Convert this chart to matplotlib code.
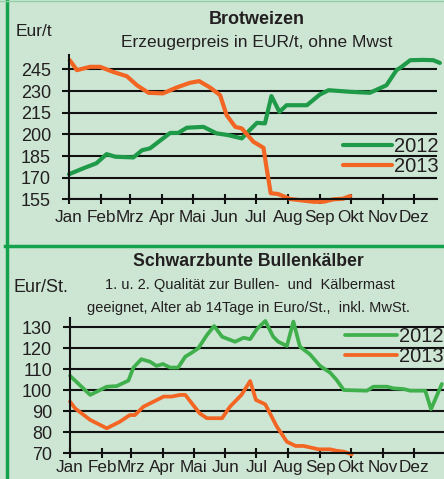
import matplotlib
matplotlib.use("Agg")
import matplotlib.pyplot as plt
from matplotlib.lines import Line2D

plt.rcParams["font.family"] = ["Liberation Sans", "DejaVu Sans"]

# ---- data (x in calendar weeks from 1 Jan) ----
months = ["Jan", "Feb", "Mrz", "Apr", "Mai", "Jun", "Jul", "Aug", "Sep", "Okt", "Nov", "Dez"]
month_start_day = [0, 31, 59, 90, 120, 151, 181, 212, 243, 273, 304, 334]

wheat_x_2012 = [0, 2, 3.8, 5.2, 6.4, 8.9, 10.1, 11.2, 12.4, 14, 15.1, 16.3, 18.6, 20.4, 22, 23.9,
                25, 26, 27.1, 28, 29.1, 30.1, 32.9, 34.7, 35.9, 38.9, 41.6, 43.9, 45.3, 46, 47.2,
                49, 50.4, 51.3]
wheat_2012 = [172.4, 176.5, 180, 186.3, 184.5, 184, 189, 190.3, 194.9, 201, 201, 204.6, 205.2,
              200.7, 199.5, 197.2, 203, 208, 207.6, 226.5, 215.6, 220.2, 220.2, 227.6, 230.6,
              229.5, 228.8, 234, 244.5, 246.8, 251.4, 251.6, 251.4, 249.5]
wheat_x_2013 = [0.1, 1.1, 2.9, 4.3, 6.1, 8, 9.4, 11, 13, 14.9, 16.7, 18, 19.5, 20.9, 21.8, 23,
                23.9, 25.5, 26.9, 27.3, 27.9, 28.9, 30.6, 33.8, 35.2, 36.6, 37.9, 38.9]
wheat_2013 = [251.4, 244.5, 246.8, 246.8, 243.3, 240.3, 234, 228.8, 228.4, 232.5, 235.7, 236.9,
              232.5, 227.2, 213.3, 205.2, 204.1, 194.9, 190.7, 177.6, 159.2, 158.7, 155.2,
              153.3, 153.3, 155, 155.4, 157.3]

calf_x_2012 = [0, 2.8, 5.1, 6.5, 8.1, 8.8, 9.9, 11.1, 12, 12.9, 13.9, 15, 16, 16.9, 17.8, 19, 20,
               21.1, 22.9, 24.1, 25, 25.9, 27.1, 28.2, 28.9, 30.1, 31, 31.9, 33.3, 34.7, 36.1,
               37, 38, 41.2, 42.1, 44, 44.9, 46.3, 47.2, 49.3, 50.1, 51.6]
calf_2012 = [106.9, 97.8, 101.7, 102, 104.6, 110.8, 114.8, 113.6, 111.6, 112.5, 110.8, 110.8,
             116, 117.9, 120, 126.3, 130.6, 125.5, 123.1, 125, 124.3, 129, 133, 125.5, 123.1,
             121.1, 132.7, 120.8, 117.1, 111.6, 108.4, 104.9, 100.1, 99.8, 101.7, 101.7, 100.9,
             100.6, 99.8, 99.8, 91, 103]
calf_x_2013 = [0, 0.7, 2.8, 5.1, 6.9, 8.3, 9, 10.2, 11.6, 13, 14.1, 15.3, 16, 16.9, 18, 19, 21.1,
               22.2, 23.8, 25, 25.8, 27.1, 28.7, 30.1, 31.3, 32.4, 34.5, 36.1, 37, 38, 39.1]
calf_2013 = [94.6, 91.4, 85.9, 81.9, 85, 88.2, 88.2, 92.2, 94.6, 97, 97, 97.8, 97.8, 93.8, 89,
             86.7, 86.7, 92.2, 97.8, 104.4, 95.4, 93.3, 82.7, 75.5, 73.5, 73.5, 71.9, 71.9, 71.2,
             70.8, 69.5]

wheat_ticks = [155, 170, 185, 200, 215, 230, 245]
calf_ticks = [70, 80, 90, 100, 110, 120, 130]

BG = "#cde6d4"
FRAME = "#14a24c"
ORANGE = "#f26522"
GREEN_TOP = "#1f9a48"
GREEN_BOT = "#40b04c"
TXT = "#231f20"

W, H = 444, 479
fig = plt.figure(figsize=(W / 100, H / 100), dpi=100, facecolor=BG)


def px_axes(l, t, r, b):
    return fig.add_axes([l / W, 1 - b / H, (r - l) / W, (b - t) / H])


def style(ax, ticks, ylim, xmax, xpad):
    ax.set_facecolor("none")
    ax.set_xlim(0, xmax)
    ax.set_ylim(*ylim)
    ax.set_yticks(ticks)
    ax.set_xticks([d / 7 for d in month_start_day])
    ax.set_xticklabels(months)
    for s in ["top", "right"]:
        ax.spines[s].set_visible(False)
    for s in ["left", "bottom"]:
        ax.spines[s].set_linewidth(1.5)
        ax.spines[s].set_color("#111111")
    ax.grid(axis="y", color="#111111", lw=1.5)
    ax.set_axisbelow(True)
    ax.tick_params(axis="y", direction="out", length=5, width=1.5, pad=8,
                   labelsize=13, colors="#111111", labelcolor=TXT)
    ax.tick_params(axis="x", direction="inout", length=7, width=1.5, pad=xpad,
                   labelsize=12.3, colors="#111111", labelcolor=TXT)


# ---- top panel ----
ax1 = px_axes(69, 55, 437, 199.3)
style(ax1, wheat_ticks, (155, 255), 50.9, 4)
l12, = ax1.plot(wheat_x_2012, wheat_2012, color=GREEN_TOP, lw=3, clip_on=False,
                solid_joinstyle="round", solid_capstyle="round")
l13, = ax1.plot(wheat_x_2013, wheat_2013, color=ORANGE, lw=3, clip_on=False,
                solid_joinstyle="round", solid_capstyle="round")
ax1.legend([l12, l13], ["2012", "2013"], loc="upper left", frameon=False,
           bbox_to_anchor=(343 / W, 1 - 137 / H), bbox_transform=fig.transFigure,
           borderpad=0, borderaxespad=0, handlelength=2.45, handletextpad=0.1,
           labelspacing=0.05, fontsize=14.5, labelcolor=TXT)

fig.text(257 / W, 1 - 20 / H, "Brotweizen", ha="center", va="center",
         fontsize=13, weight="bold", color=TXT)
fig.text(257 / W, 1 - 43 / H, "Erzeugerpreis in EUR/t, ohne Mwst", ha="center",
         va="center", fontsize=12.5, color=TXT)
fig.text(16 / W, 1 - 32 / H, "Eur/t", ha="left", va="center", fontsize=12.5, color=TXT)

# ---- bottom panel ----
ax2 = px_axes(70, 318, 444, 453.3)
style(ax2, calf_ticks, (70, 134.4), 51.9, 1.5)
m12, = ax2.plot(calf_x_2012, calf_2012, color=GREEN_BOT, lw=2.7, clip_on=False,
                solid_joinstyle="round", solid_capstyle="round")
m13, = ax2.plot(calf_x_2013, calf_2013, color=ORANGE, lw=2.7, clip_on=False,
                solid_joinstyle="round", solid_capstyle="round")
ax2.legend([m12, m13], ["2012", "2013"], loc="upper left", frameon=False,
           bbox_to_anchor=(345 / W, 1 - 327 / H), bbox_transform=fig.transFigure,
           borderpad=0, borderaxespad=0, handlelength=2.6, handletextpad=0.1,
           labelspacing=0.05, fontsize=14.5, labelcolor=TXT)

fig.text(248 / W, 1 - 262 / H, "Schwarzbunte Bullenkälber", ha="center", va="center",
         fontsize=12.7, weight="bold", color=TXT)
fig.text(13 / W, 1 - 287 / H, "Eur/St.", ha="left", va="center", fontsize=13, color=TXT)
fig.text(250 / W, 1 - 285 / H, "1. u. 2. Qualität zur Bullen-  und  Kälbermast",
         ha="center", va="center", fontsize=10.5, color=TXT)
fig.text(248 / W, 1 - 308 / H, "geeignet, Alter ab 14Tage in Euro/St.,  inkl. MwSt.",
         ha="center", va="center", fontsize=10.5, color=TXT)

# ---- frame lines ----
fig.add_artist(Line2D([6.5 / W, 6.5 / W], [0, 1], color=FRAME, lw=2.5,
                      transform=fig.transFigure))
fig.add_artist(Line2D([5 / W, 1], [1 - 245.5 / H, 1 - 245.5 / H], color=FRAME, lw=2.5,
                      transform=fig.transFigure))
fig.add_artist(Line2D([0, 1], [1 - 0.5 / H, 1 - 0.5 / H], color="#8fd0a4", lw=1,
                      transform=fig.transFigure))

fig.savefig("out.png", dpi=100, facecolor=BG)
